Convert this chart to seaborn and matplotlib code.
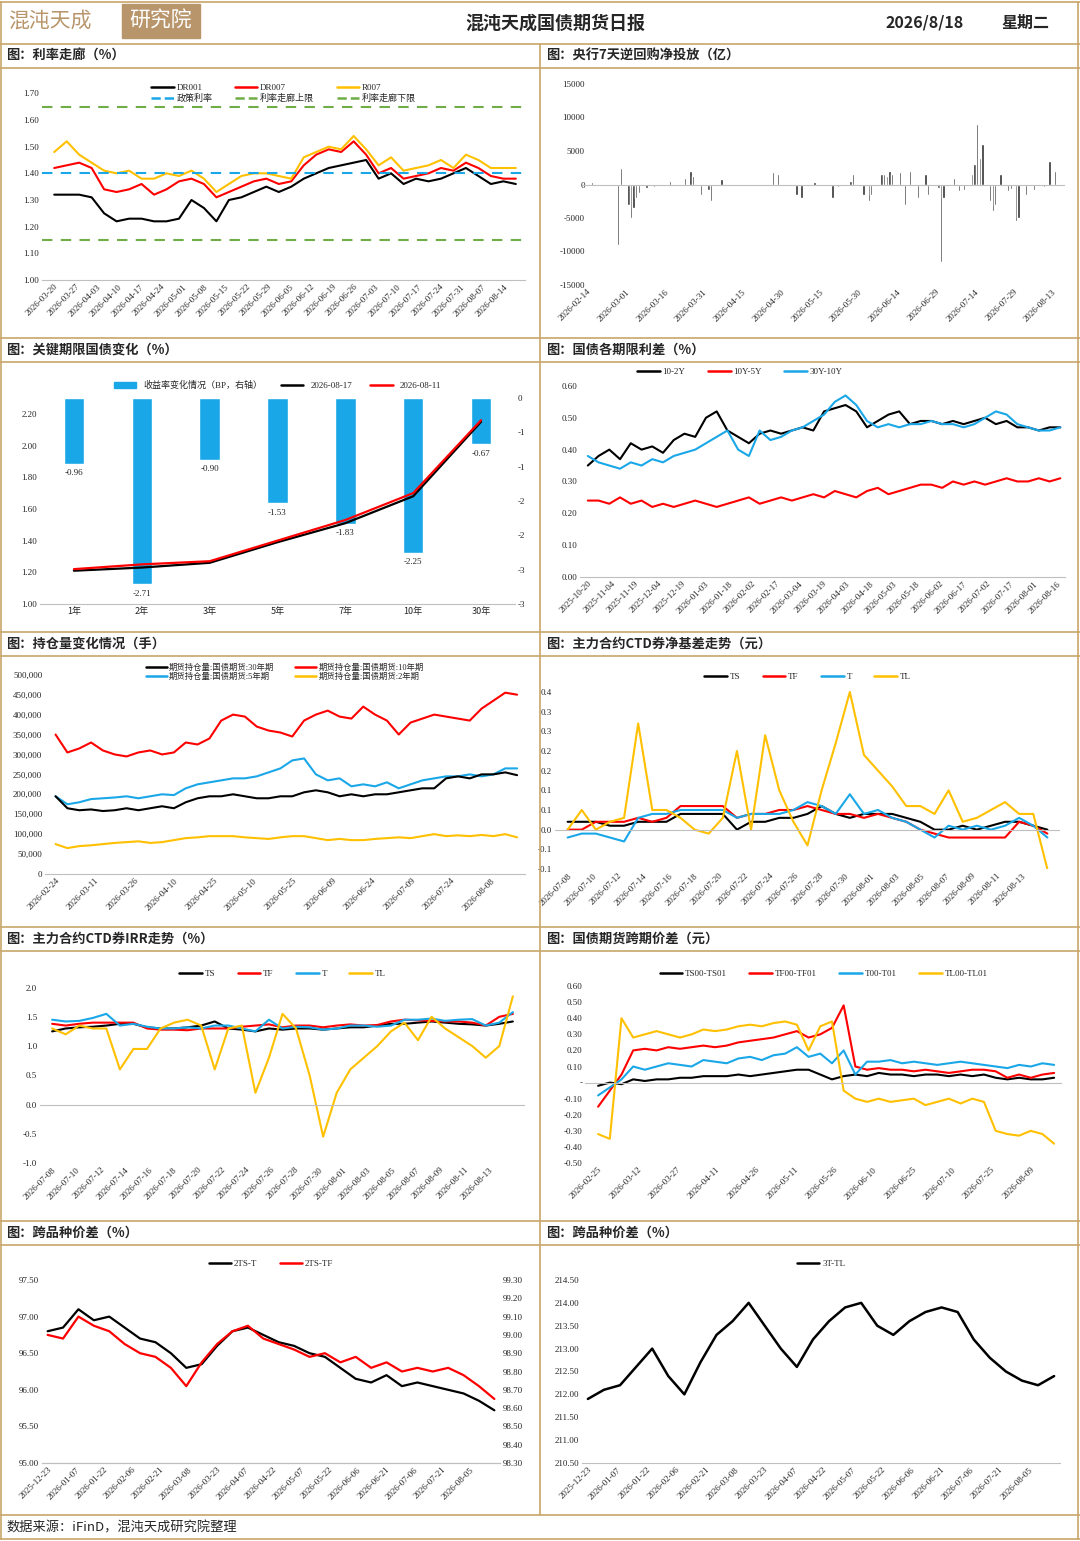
import matplotlib
matplotlib.use("Agg")
import matplotlib.pyplot as plt
import matplotlib.dates as mdates
from matplotlib.lines import Line2D
from matplotlib.patches import Rectangle, Patch
import seaborn as sns
import pandas as pd
import numpy as np

sns.set_style("white")
plt.rcParams['font.family'] = ['Liberation Serif', 'Noto Sans CJK SC', 'DejaVu Sans']
plt.rcParams['axes.unicode_minus'] = False

# ---------------- data ----------------
p1_start, p1_end = "2026-03-20", "2026-08-18"
dr001 = [1.32,1.32,1.32,1.31,1.25,1.22,1.23,1.23,1.22,1.22,1.23,1.30,1.27,1.22,1.30,1.31,1.33,1.35,1.33,1.35,1.38,1.40,1.42,1.43,1.44,1.45,1.38,1.40,1.36,1.38,1.37,1.38,1.40,1.42,1.39,1.36,1.37,1.36]
dr007 = [1.42,1.43,1.44,1.42,1.34,1.33,1.34,1.36,1.32,1.34,1.37,1.38,1.36,1.31,1.33,1.35,1.37,1.38,1.36,1.37,1.43,1.47,1.49,1.48,1.52,1.47,1.40,1.42,1.38,1.39,1.40,1.42,1.41,1.44,1.42,1.39,1.38,1.38]
r007 = [1.48,1.52,1.47,1.44,1.41,1.40,1.41,1.38,1.38,1.40,1.39,1.41,1.38,1.33,1.36,1.39,1.40,1.40,1.39,1.38,1.46,1.48,1.50,1.49,1.54,1.49,1.43,1.46,1.41,1.42,1.43,1.45,1.42,1.47,1.45,1.42,1.42,1.42]
policy_rate, corridor_up, corridor_low = 1.40, 1.65, 1.15

repo_dates = ["2026-02-16","2026-02-26","2026-02-27","2026-03-02","2026-03-03","2026-03-04","2026-03-05","2026-03-06","2026-03-09","2026-03-12","2026-03-18","2026-03-24","2026-03-26","2026-03-27","2026-03-30","2026-04-02","2026-04-03","2026-04-07","2026-04-27","2026-04-29","2026-05-06","2026-05-08","2026-05-13","2026-05-20","2026-05-22","2026-05-27","2026-05-28","2026-06-01","2026-06-03","2026-06-04","2026-06-08","2026-06-09","2026-06-10","2026-06-11","2026-06-12","2026-06-15","2026-06-17","2026-06-19","2026-06-22","2026-06-25","2026-06-26","2026-06-30","2026-07-01","2026-07-02","2026-07-06","2026-07-08","2026-07-10","2026-07-13","2026-07-14","2026-07-15","2026-07-16","2026-07-17","2026-07-20","2026-07-21","2026-07-22","2026-07-24","2026-07-27","2026-07-28","2026-07-30","2026-07-31","2026-08-03","2026-08-06","2026-08-10","2026-08-12","2026-08-14"]
repo_vals = [300,-9000,2500,-3000,-5000,-3500,-2000,-1200,-500,-400,500,1000,2000,1200,-1500,-800,-2500,800,1800,1500,-1500,-2000,300,-2000,-400,500,1500,-1500,-2500,-1500,1500,1600,1200,2000,1500,1800,-3000,2000,-2000,1500,-1500,-500,-11500,-2000,1000,-1000,-800,1500,3000,9000,4000,6000,-2500,-4000,-3000,1500,-1000,-600,-5500,-5000,-1500,-800,-300,3500,2000]

tenors = ["1年","2年","3年","5年","7年","10年","30年"]
chg_bp = [-0.96,-2.71,-0.90,-1.53,-1.83,-2.25,-0.67]
yld_0817 = [1.21,1.23,1.26,1.39,1.51,1.68,2.15]
yld_0811 = [1.22,1.25,1.27,1.40,1.53,1.70,2.16]

p4_start, p4_end = "2025-10-20", "2026-08-18"
sp_10_2 = [0.35,0.38,0.40,0.37,0.42,0.40,0.41,0.39,0.43,0.45,0.44,0.50,0.52,0.46,0.44,0.42,0.45,0.46,0.45,0.46,0.47,0.46,0.52,0.53,0.54,0.52,0.47,0.49,0.51,0.52,0.48,0.49,0.49,0.48,0.49,0.48,0.49,0.50,0.48,0.49,0.47,0.47,0.46,0.47,0.47]
sp_10_5 = [0.24,0.24,0.23,0.25,0.23,0.24,0.22,0.23,0.22,0.23,0.24,0.23,0.22,0.23,0.24,0.25,0.23,0.24,0.25,0.24,0.25,0.26,0.25,0.27,0.26,0.25,0.27,0.28,0.26,0.27,0.28,0.29,0.29,0.28,0.30,0.29,0.30,0.29,0.30,0.31,0.30,0.30,0.31,0.30,0.31]
sp_30_10 = [0.38,0.36,0.35,0.34,0.36,0.35,0.37,0.36,0.38,0.39,0.40,0.42,0.44,0.46,0.40,0.38,0.46,0.43,0.44,0.46,0.47,0.49,0.51,0.55,0.57,0.54,0.49,0.47,0.48,0.47,0.48,0.48,0.49,0.48,0.48,0.47,0.48,0.50,0.52,0.51,0.48,0.47,0.46,0.46,0.47]

p5_start, p5_end = "2026-02-24", "2026-08-18"
oi_10y = [350,305,315,330,310,300,295,305,310,300,305,330,325,340,385,400,395,370,360,355,345,385,400,410,395,390,420,400,385,350,380,390,400,395,390,385,415,435,455,450]
oi_5y = [195,175,180,188,190,192,195,190,195,200,198,215,225,230,235,240,240,245,255,265,285,290,250,235,240,220,225,220,230,215,225,235,240,245,245,250,245,250,265,265]
oi_30y = [195,165,160,162,158,160,165,160,165,170,165,180,190,195,195,200,195,190,190,195,195,205,210,205,195,200,195,200,200,205,210,215,215,240,245,240,250,250,255,248]
oi_2y = [75,65,70,72,75,78,80,82,78,80,85,90,92,95,95,95,92,90,88,92,95,95,90,85,88,85,85,88,90,92,90,95,100,95,97,95,98,95,100,92]

p6_start, p6_end = "2026-07-08", "2026-08-15"
nb_ts = [0.02,0.02,0.02,0.01,0.01,0.02,0.02,0.02,0.04,0.04,0.04,0.04,0.00,0.02,0.02,0.03,0.03,0.04,0.06,0.04,0.03,0.04,0.04,0.04,0.03,0.02,0.0,0.0,0.01,0.0,0.01,0.02,0.02,0.01,0.0]
nb_tf = [0.0,0.0,0.02,0.02,0.02,0.03,0.02,0.03,0.06,0.06,0.06,0.06,0.03,0.04,0.04,0.05,0.05,0.06,0.05,0.04,0.04,0.03,0.04,0.03,0.02,0.0,-0.01,-0.02,-0.02,-0.02,-0.02,-0.02,0.02,0.01,-0.01]
nb_t = [-0.02,-0.01,-0.01,-0.02,-0.03,0.03,0.04,0.04,0.05,0.05,0.05,0.05,0.03,0.04,0.04,0.04,0.05,0.07,0.06,0.04,0.09,0.04,0.05,0.03,0.02,0.0,-0.02,0.01,0.0,0.01,0.0,0.01,0.03,0.01,-0.02]
nb_tl = [0.0,0.05,0.0,0.02,0.03,0.27,0.05,0.05,0.03,0.0,-0.01,0.03,0.2,0.0,0.24,0.1,0.02,-0.04,0.1,0.22,0.35,0.19,0.15,0.11,0.06,0.06,0.04,0.10,0.02,0.03,0.05,0.07,0.04,0.04,-0.1]
nb_ticks = ["0.4","0.3","0.3","0.2","0.2","0.1","0.1","0.0","-0.1","-0.1"]

irr_ts = [1.25,1.3,1.32,1.33,1.35,1.38,1.38,1.32,1.3,1.3,1.32,1.35,1.42,1.3,1.28,1.25,1.3,1.28,1.3,1.3,1.28,1.3,1.32,1.32,1.35,1.38,1.38,1.4,1.42,1.4,1.38,1.37,1.35,1.38,1.42]
irr_tf = [1.38,1.35,1.38,1.4,1.4,1.4,1.4,1.3,1.28,1.28,1.27,1.3,1.3,1.3,1.33,1.35,1.37,1.32,1.35,1.35,1.32,1.35,1.37,1.35,1.36,1.42,1.45,1.44,1.43,1.42,1.42,1.4,1.35,1.5,1.55]
irr_t = [1.45,1.42,1.43,1.48,1.55,1.35,1.38,1.33,1.3,1.3,1.32,1.3,1.35,1.35,1.3,1.25,1.45,1.3,1.33,1.32,1.28,1.3,1.35,1.35,1.33,1.35,1.45,1.45,1.47,1.43,1.45,1.46,1.35,1.4,1.58]
irr_tl = [1.3,1.2,1.35,1.3,1.3,0.6,0.95,0.95,1.3,1.4,1.45,1.35,0.6,1.3,1.35,0.2,0.8,1.55,1.3,0.5,-0.55,0.2,0.6,0.8,1.0,1.25,1.4,1.1,1.5,1.3,1.15,1.0,0.8,1.0,1.85]

p8_start, p8_end = "2026-02-25", "2026-08-18"
cs_ts = [-0.02,0.0,-0.01,0.02,0.01,0.02,0.02,0.03,0.03,0.04,0.04,0.04,0.05,0.04,0.05,0.06,0.07,0.08,0.08,0.05,0.02,0.04,0.05,0.04,0.06,0.05,0.05,0.04,0.05,0.05,0.04,0.05,0.04,0.05,0.03,0.02,0.03,0.02,0.02,0.03]
cs_tf = [-0.15,-0.05,0.05,0.20,0.21,0.20,0.22,0.21,0.22,0.23,0.22,0.23,0.25,0.26,0.27,0.28,0.30,0.32,0.28,0.30,0.34,0.48,0.10,0.08,0.09,0.08,0.08,0.07,0.08,0.07,0.06,0.07,0.08,0.08,0.07,0.03,0.05,0.03,0.05,0.06]
cs_t = [-0.08,-0.03,0.02,0.10,0.08,0.10,0.12,0.11,0.10,0.14,0.13,0.12,0.15,0.16,0.14,0.17,0.18,0.22,0.16,0.18,0.12,0.20,0.05,0.13,0.13,0.14,0.12,0.13,0.12,0.11,0.12,0.13,0.12,0.11,0.10,0.09,0.11,0.10,0.12,0.11]
cs_tl = [-0.32,-0.35,0.40,0.28,0.30,0.32,0.30,0.28,0.30,0.33,0.32,0.33,0.35,0.36,0.35,0.37,0.38,0.36,0.20,0.35,0.38,-0.05,-0.10,-0.12,-0.10,-0.12,-0.11,-0.10,-0.14,-0.12,-0.10,-0.13,-0.10,-0.12,-0.30,-0.32,-0.33,-0.30,-0.32,-0.38]

p9_start, p9_end = "2025-12-23", "2026-08-18"
ts_t = [96.8,96.85,97.1,96.95,97.0,96.85,96.7,96.65,96.5,96.3,96.35,96.6,96.8,96.85,96.75,96.65,96.6,96.5,96.45,96.3,96.15,96.1,96.2,96.05,96.1,96.05,96.0,95.95,95.85,95.72]
ts_tf = [99.0,98.98,99.10,99.05,99.02,98.95,98.90,98.88,98.82,98.72,98.85,98.95,99.02,99.05,98.98,98.95,98.92,98.88,98.9,98.85,98.88,98.82,98.85,98.8,98.82,98.8,98.82,98.78,98.72,98.65]
t_tl = [211.9,212.1,212.2,212.6,213.0,212.4,212.0,212.7,213.3,213.6,214.0,213.5,213.0,212.6,213.2,213.6,213.9,214.0,213.5,213.3,213.6,213.8,213.9,213.8,213.2,212.8,212.5,212.3,212.2,212.4]

# ---------------- figure ----------------
W, H = 1080, 1541
fig = plt.figure(figsize=(W/100, H/100), dpi=100)
GOLD = "#c9a66b"
BLUE, RED, YEL, GRN = "#1aa7e8", "#ff0000", "#ffc000", "#70ad47"
TF = 6.5

def ax_at(l, t, r, b):
    return fig.add_axes([l/W, 1-b/H, (r-l)/W, (b-t)/H])

def fy(y): return 1 - y/H
def hline(y, x0=0, x1=W, lw=1.2):
    fig.add_artist(Line2D([x0/W, x1/W], [fy(y), fy(y)], color=GOLD, lw=lw))
def vline(x, y0, y1, lw=1.2):
    fig.add_artist(Line2D([x/W, x/W], [fy(y0), fy(y1)], color=GOLD, lw=lw))

# header
fig.add_artist(Rectangle((122/W, fy(38)), 78/W, 34/H, color="#b8956a"))
fig.text(8/W, fy(21), "混沌天成", fontsize=15, color="#b8956a", va="center", family=['Noto Sans CJK SC'])
fig.text(161/W, fy(21), "研究院", fontsize=15, color="white", va="center", ha="center", family=['Noto Sans CJK SC'])
fig.text(555/W, fy(23), "混沌天成国债期货日报", fontsize=13, weight="bold", ha="center", va="center", family=['Noto Sans CJK SC'])
fig.text(925/W, fy(23), "2026/8/18", fontsize=11.5, weight="bold", ha="center", va="center", family=['Noto Sans CJK SC'])
fig.text(1025/W, fy(23), "星期二", fontsize=11.5, weight="bold", ha="center", va="center", family=['Noto Sans CJK SC'])

rows = [44, 338, 632, 927, 1221]
titles = [("图：利率走廊（%）", "图：央行7天逆回购净投放（亿）"),
          ("图：关键期限国债变化（%）", "图：国债各期限利差（%）"),
          ("图：持仓量变化情况（手）", "图：主力合约CTD券净基差走势（元）"),
          ("图：主力合约CTD券IRR走势（%）", "图：国债期货跨期价差（元）"),
          ("图：跨品种价差（%）", "图：跨品种价差（%）")]
for y, (tl, tr) in zip(rows, titles):
    hline(y); hline(y+24)
    fig.text(6/W, fy(y+12), tl, fontsize=9.5, weight="bold", va="center", family=['Noto Sans CJK SC'])
    fig.text(546/W, fy(y+12), tr, fontsize=9.5, weight="bold", va="center", family=['Noto Sans CJK SC'])
hline(1515); hline(1539); hline(2)
vline(540, 44, 1515); vline(1, 2, 1539); vline(1078, 2, 1539)
fig.text(6/W, fy(1528), "数据来源：iFinD，混沌天成研究院整理", fontsize=9.5, va="center", family=['Noto Sans CJK SC'])

def style(ax, left=True):
    for s in ["top", "right", "left"]:
        ax.spines[s].set_visible(False)
    ax.spines["bottom"].set_color("#bfbfbf")
    ax.tick_params(axis="both", labelsize=TF, length=0, pad=2)
    ax.set_xlabel(""); ax.set_ylabel("")

def date_axis(ax, start, step, end):
    ticks = pd.date_range(start, end, freq=f"{step}D")
    ax.set_xticks(ticks)
    ax.set_xticklabels([t.strftime("%Y-%m-%d") for t in ticks], rotation=45, ha="right", rotation_mode="anchor", fontsize=TF)

def leg(ax, items, ncol, y=1.02, fs=6.5):
    hs = [Line2D([], [], color=c, lw=1.8, ls=ls) for _, c, ls in items]
    ax.legend(hs, [n for n, _, _ in items], ncol=ncol, loc="upper center", bbox_to_anchor=(0.5, y),
              frameon=False, fontsize=fs, handlelength=2.5, columnspacing=2.5, borderaxespad=0, handletextpad=0.3,
              labelspacing=0.2, prop={'family': ['Liberation Serif', 'Noto Sans CJK SC'], 'size': fs})

def series(ax, start, end, vals, color, lw=1.5):
    d = pd.date_range(start, end, periods=len(vals))
    sns.lineplot(x=d, y=vals, ax=ax, color=color, lw=lw, legend=False)
    return d

# Panel 1
ax = ax_at(42, 80, 525, 280)
d = series(ax, p1_start, p1_end, dr001, "black")
series(ax, p1_start, p1_end, dr007, RED)
series(ax, p1_start, p1_end, r007, YEL)
ax.axhline(policy_rate, color=BLUE, ls=(0, (5, 4)), lw=1.5)
ax.axhline(corridor_up, color=GRN, ls=(0, (5, 4)), lw=1.5)
ax.axhline(corridor_low, color=GRN, ls=(0, (5, 4)), lw=1.5)
ax.set_ylim(1.0, 1.75); ax.set_yticks(np.arange(1.0, 1.71, 0.1))
ax.set_yticklabels([f"{v:.2f}" for v in np.arange(1.0, 1.71, 0.1)])
ax.set_xlim(pd.Timestamp("2026-03-16"), pd.Timestamp("2026-08-21"))
style(ax); date_axis(ax, "2026-03-20", 7, "2026-08-15")
leg(ax, [("DR001", "black", "-"), ("政策利率", BLUE, "--"), ("DR007", RED, "-"),
         ("利率走廊上限", GRN, "--"), ("R007", YEL, "-"), ("利率走廊下限", GRN, "--")], 3, y=1.0)

# Panel 2
ax = ax_at(582, 84, 1065, 285)
rd = pd.to_datetime(repo_dates)
ax.bar(rd, repo_vals, width=0.9, color="#303030")
ax.axhline(0, color="#bfbfbf", lw=0.8)
ax.set_ylim(-15000, 15000); ax.set_yticks(range(-15000, 15001, 5000))
ax.set_yticklabels(["-15000", "-10000", "-5000", "0", "5000", "10000", "15000"])
ax.set_xlim(pd.Timestamp("2026-02-12"), pd.Timestamp("2026-08-18"))
style(ax); ax.spines["bottom"].set_visible(False)
date_axis(ax, "2026-02-14", 15, "2026-08-15")
ax.tick_params(axis="y", pad=-2)

# Panel 3
ax = ax_at(40, 398, 515, 604)
ax2 = ax.twinx()
df3 = pd.DataFrame({"tenor": tenors, "chg": chg_bp})
sns.barplot(data=df3, x="tenor", y="chg", ax=ax2, color=BLUE, width=0.3, saturation=1)
for i, v in enumerate(chg_bp):
    ax2.text(i, v - 0.08, f"{v:.2f}", ha="center", va="top", fontsize=TF)
ax2.set_ylim(-3, 0); ax2.set_yticks(np.arange(-3, 0.01, 0.5))
ax2.set_yticklabels(["-3", "-3", "-2", "-2", "-1", "-1", "0"])
ax.plot(range(7), yld_0817, color="black", lw=1.6)
ax.plot(range(7), yld_0811, color=RED, lw=1.6)
ax.set_zorder(ax2.get_zorder() + 1); ax.patch.set_visible(False)
ax.set_ylim(1.0, 2.3); ax.set_yticks(np.arange(1.0, 2.21, 0.2))
ax.set_yticklabels([f"{v:.2f}" for v in np.arange(1.0, 2.21, 0.2)])
ax.set_xlim(-0.5, 6.5)
style(ax); style(ax2)
ax.set_xticks(range(7)); ax.set_xticklabels(tenors, family=['Noto Sans CJK SC'], fontsize=TF)
ax2.set_xlabel(""); ax2.spines["bottom"].set_visible(False)
hs = [Patch(color=BLUE), Line2D([], [], color="black", lw=1.8), Line2D([], [], color=RED, lw=1.8)]
ax.legend(hs, ["收益率变化情况（BP，右轴）", "2026-08-17", "2026-08-11"], ncol=3, loc="lower center",
          bbox_to_anchor=(0.5, 1.02), frameon=False, handlelength=2.5, columnspacing=2.0, borderaxespad=0,
          prop={'family': ['Liberation Serif', 'Noto Sans CJK SC'], 'size': 6.5})

# Panel 4
ax = ax_at(580, 370, 1065, 577)
series(ax, p4_start, p4_end, sp_10_2, "black")
series(ax, p4_start, p4_end, sp_10_5, RED)
series(ax, p4_start, p4_end, sp_30_10, BLUE)
ax.set_ylim(0, 0.65); ax.set_yticks(np.arange(0, 0.61, 0.1))
ax.set_yticklabels([f"{v:.2f}" for v in np.arange(0, 0.61, 0.1)])
ax.set_xlim(pd.Timestamp("2025-10-15"), pd.Timestamp("2026-08-21"))
style(ax); date_axis(ax, "2025-10-20", 15, "2026-08-18")
leg(ax, [("10-2Y", "black", "-"), ("10Y-5Y", RED, "-"), ("30Y-10Y", BLUE, "-")], 3, y=1.03)
ax.get_legend().set_bbox_to_anchor((0.33, 1.03))

# Panel 5
ax = ax_at(45, 660, 525, 874)
for vals, c in [(oi_10y, RED), (oi_5y, BLUE), (oi_30y, "black"), (oi_2y, YEL)]:
    series(ax, p5_start, p5_end, [v*1000 for v in vals], c)
ax.set_ylim(0, 537000); ax.set_yticks(range(0, 500001, 50000))
ax.set_yticklabels([f"{v:,}" for v in range(0, 500001, 50000)])
ax.set_xlim(pd.Timestamp("2026-02-20"), pd.Timestamp("2026-08-21"))
style(ax); date_axis(ax, "2026-02-24", 15, "2026-08-15")
leg(ax, [("期货持仓量:国债期货:30年期", "black", "-"), ("期货持仓量:国债期货:5年期", BLUE, "-"),
         ("期货持仓量:国债期货:10年期", RED, "-"), ("期货持仓量:国债期货:2年期", YEL, "-")], 2, y=1.0, fs=6)

# Panel 6
ax = ax_at(555, 675, 1060, 869)
for vals, c in [(nb_ts, "black"), (nb_tf, RED), (nb_t, BLUE), (nb_tl, YEL)]:
    series(ax, p6_start, p6_end, vals, c)
ax.set_ylim(-0.1, 0.35 + 0.05*17/19.7)
yt = [0.35, 0.3, 0.25, 0.2, 0.15, 0.1, 0.05, 0.0, -0.05, -0.1]
ax.set_yticks(yt); ax.set_yticklabels(nb_ticks)
ax.set_xlim(pd.Timestamp("2026-07-07"), pd.Timestamp("2026-08-16"))
style(ax); ax.spines["bottom"].set_visible(False)
ax.axhline(0, color="#bfbfbf", lw=0.8)
date_axis(ax, "2026-07-08", 2, "2026-08-14")
leg(ax, [("TS", "black", "-"), ("TF", RED, "-"), ("T", BLUE, "-"), ("TL", YEL, "-")], 4, y=1.03)
ax.get_legend().set_bbox_to_anchor((0.5, 1.03))

# Panel 7
ax = ax_at(40, 970, 525, 1163)
for vals, c in [(irr_ts, "black"), (irr_tf, RED), (irr_t, BLUE), (irr_tl, YEL)]:
    series(ax, p6_start, p6_end, vals, c)
ax.set_ylim(-1.0, 2.3); ax.set_yticks(np.arange(-1.0, 2.01, 0.5))
ax.set_yticklabels([f"{v:.1f}" for v in np.arange(-1.0, 2.01, 0.5)])
ax.set_xlim(pd.Timestamp("2026-07-07"), pd.Timestamp("2026-08-16"))
style(ax); ax.spines["bottom"].set_visible(False)
ax.axhline(0, color="#bfbfbf", lw=0.8)
date_axis(ax, "2026-07-08", 2, "2026-08-14")
leg(ax, [("TS", "black", "-"), ("TF", RED, "-"), ("T", BLUE, "-"), ("TL", YEL, "-")], 4, y=1.02)

# Panel 8
ax = ax_at(585, 970, 1062, 1163)
for vals, c in [(cs_ts, "black"), (cs_tf, RED), (cs_t, BLUE), (cs_tl, YEL)]:
    series(ax, p8_start, p8_end, vals, c)
ax.set_ylim(-0.5, 0.7); ax.set_yticks(np.arange(-0.5, 0.61, 0.1))
ax.set_yticklabels([("-" if abs(v) < 1e-9 else f"{v:.2f}") for v in np.arange(-0.5, 0.61, 0.1)])
ax.set_xlim(pd.Timestamp("2026-02-20"), pd.Timestamp("2026-08-21"))
style(ax); ax.spines["bottom"].set_visible(False)
ax.axhline(0, color="#bfbfbf", lw=0.8)
date_axis(ax, "2026-02-25", 15, "2026-08-15")
leg(ax, [("TS00-TS01", "black", "-"), ("TF00-TF01", RED, "-"), ("T00-T01", BLUE, "-"), ("TL00-TL01", YEL, "-")], 4, y=1.02)

# Panel 9
ax = ax_at(42, 1262, 500, 1463)
ax2 = ax.twinx()
series(ax, p9_start, p9_end, ts_t, "black", lw=1.6)
series(ax2, p9_start, p9_end, ts_tf, RED, lw=1.6)
ax.set_ylim(95.0, 97.5 + 0.5*18/36.6); ax.set_yticks(np.arange(95.0, 97.51, 0.5))
ax.set_yticklabels([f"{v:.2f}" for v in np.arange(95.0, 97.51, 0.5)])
ax2.set_ylim(98.3, 99.3 + 0.1*18/18.3); ax2.set_yticks(np.arange(98.3, 99.31, 0.1))
ax2.set_yticklabels([f"{v:.2f}" for v in np.arange(98.3, 99.31, 0.1)])
for a in (ax, ax2):
    a.set_xlim(pd.Timestamp("2025-12-20"), pd.Timestamp("2026-08-21"))
style(ax); style(ax2)
date_axis(ax, "2025-12-23", 15, "2026-08-15")
leg(ax, [("2TS-T", "black", "-"), ("2TS-TF", RED, "-")], 2, y=1.03)
ax.get_legend().set_bbox_to_anchor((0.5, 1.03))

# Panel 10
ax = ax_at(582, 1262, 1060, 1463)
series(ax, p9_start, p9_end, t_tl, "black", lw=1.8)
ax.set_ylim(210.5, 214.5 + 0.5*18/22.9); ax.set_yticks(np.arange(210.5, 214.51, 0.5))
ax.set_yticklabels([f"{v:.2f}" for v in np.arange(210.5, 214.51, 0.5)])
ax.set_xlim(pd.Timestamp("2025-12-20"), pd.Timestamp("2026-08-21"))
style(ax); date_axis(ax, "2025-12-23", 15, "2026-08-15")
leg(ax, [("3T-TL", "black", "-")], 1, y=1.03)

fig.savefig("out.png", dpi=100)
